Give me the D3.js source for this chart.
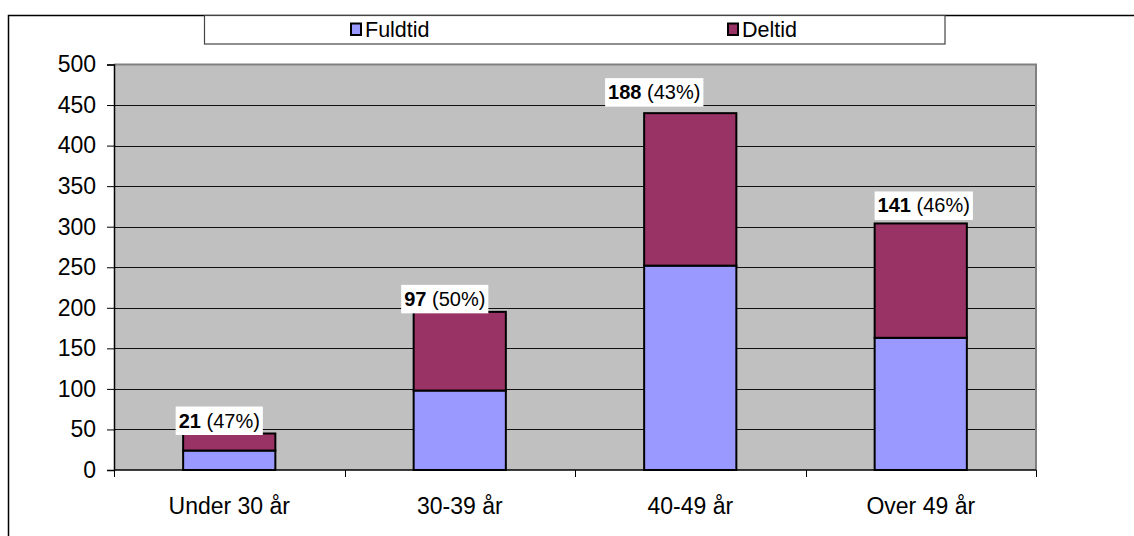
<!DOCTYPE html>
<html>
<head>
<meta charset="utf-8">
<script src="https://cdn.jsdelivr.net/npm/d3@7"></script>
<style>
  html, body { margin: 0; padding: 0; background: #fff; }
  svg { display: block; font-family: "Liberation Sans", Arial, sans-serif; }
</style>
</head>
<body>
<svg id="chart" width="1134" height="536"></svg>
<script>
// ---- data ----
const categories = ["Under 30 år", "30-39 år", "40-49 år", "Over 49 år"];
const seriesNames = ["Fuldtid", "Deltid"];
const fuldtid = [24, 98, 252, 163];
const deltid = [21, 97, 188, 141];
const yTicks = [0, 50, 100, 150, 200, 250, 300, 350, 400, 450, 500];

// ---- layout / style ----
const W = 1134, H = 536;
const plot = { left: 114, right: 1036, top: 64.5, bottom: 470 };
const colors = { Fuldtid: "#9999FF", Deltid: "#993366" };
const labelNudgeX = [-10, -15, -36, 3];
const labelNudgeY = [2, 2, -6, -3];

const svg = d3.select("#chart");

// outer chart border (extends beyond visible area)
svg.append("rect")
  .attr("x", 8.5).attr("y", 15.5).attr("width", 1300).attr("height", 700)
  .attr("fill", "#fff").attr("stroke", "#000").attr("stroke-width", 1.5);

// legend box
const legend = svg.append("g");
legend.append("rect")
  .attr("x", 204.5).attr("y", 15.5).attr("width", 740.5).attr("height", 28.5)
  .attr("fill", "#fff").attr("stroke", "#444").attr("stroke-width", 1.2);
const legendX = [351, 728];
seriesNames.forEach((s, i) => {
  legend.append("rect")
    .attr("x", legendX[i]).attr("y", 23.5).attr("width", 10).attr("height", 11.5)
    .attr("fill", colors[s]).attr("stroke", "#000").attr("stroke-width", 2);
  legend.append("text")
    .attr("x", legendX[i] + 14).attr("y", 37)
    .attr("font-size", 21.5).attr("fill", "#000").text(s);
});

// scales
const x = d3.scaleBand().domain(categories)
  .range([plot.left, plot.right]).paddingInner(0.6).paddingOuter(0.3);
const y = d3.scaleLinear().domain([0, 500]).range([plot.bottom, plot.top]);

// plot background
svg.append("rect")
  .attr("x", plot.left).attr("y", plot.top)
  .attr("width", plot.right - plot.left).attr("height", plot.bottom - plot.top)
  .attr("fill", "#C0C0C0");

// gridlines
svg.append("g").selectAll("line").data(yTicks.filter(v => v > 0 && v < 500)).join("line")
  .attr("x1", plot.left).attr("x2", plot.right)
  .attr("y1", d => Math.round(y(d)) + 0.5).attr("y2", d => Math.round(y(d)) + 0.5)
  .attr("stroke", "#111").attr("stroke-width", 1);

// plot border top/right (gray)
svg.append("path")
  .attr("d", `M${plot.left},${plot.top} H${plot.right} V${plot.bottom}`)
  .attr("fill", "none").attr("stroke", "#808080").attr("stroke-width", 2);

// stacked bars
const rows = categories.map((c, i) => ({ cat: c, Fuldtid: fuldtid[i], Deltid: deltid[i] }));
const stack = d3.stack().keys(seriesNames)(rows);
svg.append("g").selectAll("g").data(stack).join("g")
  .attr("fill", d => colors[d.key])
  .selectAll("rect").data(d => d).join("rect")
  .attr("x", d => x(d.data.cat))
  .attr("y", d => y(d[1]))
  .attr("width", x.bandwidth())
  .attr("height", d => y(d[0]) - y(d[1]))
  .attr("stroke", "#000").attr("stroke-width", 2);

// y axis
const yAxis = svg.append("g").attr("transform", `translate(${plot.left},0)`)
  .call(d3.axisLeft(y).tickValues(yTicks).tickSize(7).tickPadding(11).tickFormat(d3.format("d")));
yAxis.select(".domain").attr("stroke", "#000").attr("stroke-width", 1.5);
yAxis.selectAll(".tick line").attr("stroke", "#000");
yAxis.selectAll("text").attr("font-size", 23).attr("fill", "#000")
  .attr("font-family", "Liberation Sans, Arial, sans-serif");

// x axis
const xAxis = svg.append("g").attr("transform", `translate(0,${plot.bottom})`)
  .call(d3.axisBottom(x).tickSize(0).tickPadding(28));
xAxis.select(".domain").remove();
xAxis.selectAll("text").attr("font-size", 23).attr("fill", "#000")
  .attr("font-family", "Liberation Sans, Arial, sans-serif");
svg.append("line")
  .attr("x1", plot.left).attr("x2", plot.right)
  .attr("y1", plot.bottom).attr("y2", plot.bottom)
  .attr("stroke", "#000").attr("stroke-width", 1.5);
const bounds = d3.range(categories.length + 1).map(i => plot.left + i * x.step());
svg.append("g").selectAll("line").data(bounds).join("line")
  .attr("x1", d => Math.round(d) + 0.5).attr("x2", d => Math.round(d) + 0.5)
  .attr("y1", plot.bottom).attr("y2", plot.bottom + 7)
  .attr("stroke", "#000").attr("stroke-width", 1);

// data labels
const labels = svg.append("g");
rows.forEach((r, i) => {
  const total = r.Fuldtid + r.Deltid;
  const pct = Math.round(r.Deltid / total * 100);
  const cx = x(r.cat) + x.bandwidth() / 2 + labelNudgeX[i];
  const baseY = y(total) - 8 + labelNudgeY[i];
  const g = labels.append("g");
  const bg = g.append("rect").attr("fill", "#fff");
  const t = g.append("text").attr("x", cx).attr("y", baseY)
    .attr("text-anchor", "middle").attr("font-size", 20).attr("fill", "#000");
  t.append("tspan").attr("font-weight", "bold").text(r.Deltid);
  t.append("tspan").text(` (${pct}%)`);
  const bb = t.node().getBBox();
  bg.attr("x", bb.x - 3).attr("y", baseY - 21)
    .attr("width", bb.width + 6).attr("height", 28.5);
});
</script>
</body>
</html>
